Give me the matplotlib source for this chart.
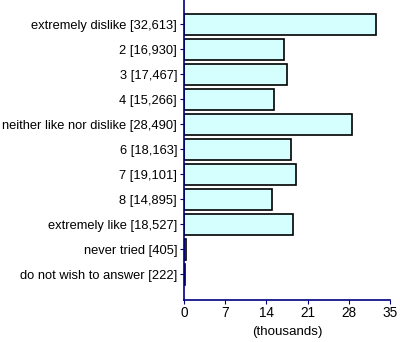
import matplotlib
matplotlib.use("Agg")
import matplotlib.pyplot as plt

# 回答カテゴリと件数
categories = ["extremely dislike", "2", "3", "4", "neither like nor dislike",
              "6", "7", "8", "extremely like", "never tried", "do not wish to answer"]
counts = [32613, 16930, 17467, 15266, 28490, 18163, 19101, 14895, 18527, 405, 222]
x_ticks = [0, 7, 14, 21, 28, 35]

plt.rcParams["font.family"] = ["Liberation Sans", "DejaVu Sans"]

fig = plt.figure(figsize=(4.0, 3.42), dpi=100)
ax = fig.add_axes([0.46, 0.1228, 0.515, 0.8772])

labels = [f"{c} [{n:,}]" for c, n in zip(categories, counts)]
vals = [n / 1000 for n in counts]
pos = list(range(len(categories)))

ax.barh(pos, vals, height=0.84, color="#d5ffff", edgecolor="black", linewidth=1.2)

ax.set_ylim(11.04, -0.96)
ax.set_xlim(0, 35)
ax.set_yticks(pos)
ax.set_yticklabels(labels, fontsize=9.3)
ax.set_xticks(x_ticks)
ax.set_xticklabels([str(t) for t in x_ticks], fontsize=9.8)
ax.set_xlabel("(thousands)", fontsize=9.6, labelpad=4)

navy = "#000080"
for side in ["top", "right"]:
    ax.spines[side].set_visible(False)
for side in ["left", "bottom"]:
    ax.spines[side].set_color(navy)
    ax.spines[side].set_linewidth(1.2)
ax.tick_params(axis="y", colors=navy, length=3, labelcolor="black", pad=2)
ax.tick_params(axis="x", colors=navy, length=3, labelcolor="black", pad=1.5)

fig.savefig("out.png", dpi=100)
